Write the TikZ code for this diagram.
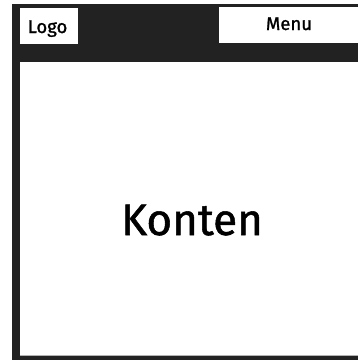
\documentclass[tikz,border=0pt]{standalone}
\usepackage{fontspec}
\setmainfont{Fira Sans}[FakeBold=1.2]
\definecolor{frame}{HTML}{222222}
\begin{document}
\begin{tikzpicture}[x=1pt,y=-1pt,
  box/.style={fill=white,draw=none,inner sep=0pt},
  lbl/.style={font=\fontsize{18.5}{18.5}\selectfont,text=black,inner sep=0pt}]
\useasboundingbox (0,0) rectangle (358,360);
\fill[white] (0,0) rectangle (358,360);
\fill[frame] (12,4) rectangle (358,360);
\node[box,minimum width=58pt,minimum height=36pt,anchor=north west] (logo) at (20,8) {};
\node[lbl,anchor=base] (logot) at (47.5,33) {Logo};
\node[box,minimum width=139pt,minimum height=36pt,anchor=north west] (menu) at (219,7) {};
\node[lbl,anchor=base] (menut) at (289,30) {Menu};
\node[box,minimum width=338pt,minimum height=294pt,anchor=north west] (content) at (20,62) {};
\draw[gray!60,line width=1pt] (20,355.5) -- (358,355.5);
\node[font=\fontsize{44}{44}\selectfont,inner sep=0pt,anchor=base] (konten) at (192,235) {Konten};
\end{tikzpicture}
\end{document}
